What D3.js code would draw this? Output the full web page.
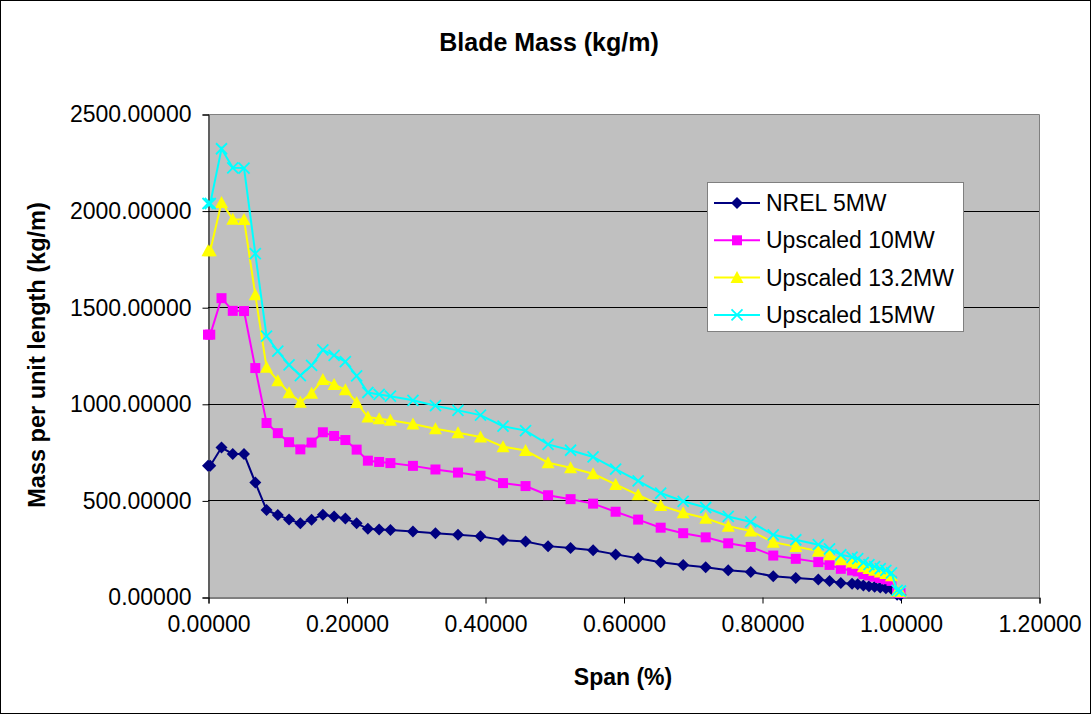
<!DOCTYPE html>
<html>
<head>
<meta charset="utf-8">
<script src="https://cdn.jsdelivr.net/npm/d3@7"></script>
<style>
  body { margin: 0; background: #fff; }
  text { font-family: "Liberation Sans", Arial, sans-serif; fill: #000; }
</style>
</head>
<body>
<div id="chart"></div>
<script>
// span fraction along blade
const span = [0, 0.00325, 0.01951, 0.03577, 0.05203, 0.06829, 0.08455, 0.10081, 0.11707, 0.13335,
  0.14959, 0.16585, 0.18211, 0.19837, 0.21465, 0.23089, 0.24715, 0.26341, 0.29595, 0.32846,
  0.36098, 0.39350, 0.42602, 0.45855, 0.49106, 0.52358, 0.55610, 0.58862, 0.62115, 0.65366,
  0.68618, 0.71870, 0.75122, 0.78374, 0.81626, 0.84878, 0.88130, 0.89756, 0.91382, 0.93008,
  0.93821, 0.94636, 0.95447, 0.96260, 0.97073, 0.97886, 0.98699, 0.99512, 1.00000];

const nrel5 = [678.9, 678.9, 773.4, 740.6, 740.0, 592.5, 450.3, 424.1, 400.6, 382.1,
  399.7, 426.3, 416.8, 406.2, 381.4, 352.8, 349.5, 346.5, 339.3, 330.0,
  322.0, 313.8, 294.7, 287.1, 263.3, 253.2, 241.7, 220.6, 200.3, 179.4,
  165.1, 154.4, 138.9, 129.6, 107.3, 98.8, 90.2, 83.0, 72.9, 68.8,
  66.3, 59.3, 55.9, 52.5, 49.1, 45.8, 41.7, 11.5, 10.3];

const up10 = [1357.9, 1357.9, 1546.7, 1481.1, 1480.1, 1185.0, 900.6, 848.1, 801.3, 764.1,
  799.3, 852.6, 833.6, 812.4, 762.8, 705.6, 699.0, 693.1, 678.7, 660.0,
  644.0, 627.6, 589.5, 574.2, 526.7, 506.4, 483.3, 441.3, 400.6, 358.8,
  330.2, 308.8, 277.9, 259.1, 214.5, 197.6, 180.5, 166.0, 145.8, 137.5,
  132.5, 118.7, 111.8, 105.0, 98.2, 91.6, 83.3, 22.9, 20.6];

const up13 = [1792.4, 1792.4, 2041.7, 1955.1, 1953.7, 1564.2, 1188.7, 1119.5, 1057.7, 1008.6,
  1055.1, 1125.5, 1100.4, 1072.3, 1006.9, 931.5, 922.6, 914.9, 895.8, 871.2,
  850.1, 828.5, 778.1, 758.0, 695.2, 668.5, 638.0, 582.5, 528.8, 473.6,
  435.8, 407.6, 366.8, 342.0, 283.2, 260.8, 238.3, 219.1, 192.5, 181.6,
  174.9, 156.7, 147.6, 138.6, 129.7, 121.0, 110.0, 30.2, 27.2];

const up15 = [2036.8, 2036.8, 2320.1, 2221.7, 2220.1, 1777.5, 1350.8, 1272.2, 1201.9, 1146.2,
  1199.0, 1279.0, 1250.5, 1218.6, 1144.3, 1058.5, 1048.4, 1039.6, 1018.0, 990.0,
  966.0, 941.5, 884.2, 861.4, 790.0, 759.6, 725.0, 661.9, 600.9, 538.2,
  495.3, 463.2, 416.8, 388.7, 321.8, 296.3, 270.7, 249.0, 218.7, 206.3,
  198.8, 178.0, 167.7, 157.5, 147.3, 137.5, 125.0, 34.4, 31.0];

const seriesNames = ["NREL 5MW", "Upscaled 10MW", "Upscaled 13.2MW", "Upscaled 15MW"];
const xTicks = [0, 0.2, 0.4, 0.6, 0.8, 1.0, 1.2];
const yTicks = [0, 500, 1000, 1500, 2000, 2500];

const series = [
  { name: seriesNames[0], values: nrel5, color: "#000080", marker: "diamond" },
  { name: seriesNames[1], values: up10, color: "#FF00FF", marker: "square" },
  { name: seriesNames[2], values: up13, color: "#FFFF00", marker: "triangle" },
  { name: seriesNames[3], values: up15, color: "#00FFFF", marker: "x" }
];

const W = 1092, H = 715;
const plot = { left: 208, top: 114, right: 1039, bottom: 597 };

const svg = d3.select("#chart").append("svg")
    .attr("width", W).attr("height", H);

svg.append("rect").attr("x", 0.5).attr("y", 0.5)
    .attr("width", W - 2).attr("height", H - 2)
    .attr("fill", "#fff").attr("stroke", "#000");

const x = d3.scaleLinear().domain([0, 1.2]).range([plot.left, plot.right]);
const y = d3.scaleLinear().domain([0, 2500]).range([plot.bottom, plot.top]);

// plot area
svg.append("rect")
    .attr("x", plot.left).attr("y", plot.top)
    .attr("width", plot.right - plot.left).attr("height", plot.bottom - plot.top)
    .attr("fill", "#C0C0C0");
svg.append("path")
    .attr("d", `M${plot.left},${plot.top + 0.5}H${plot.right + 0.5}V${plot.bottom}`)
    .attr("fill", "none").attr("stroke", "#808080");

// gridlines
svg.selectAll(".grid").data(yTicks.slice(1, -1)).enter().append("line")
    .attr("x1", plot.left).attr("x2", plot.right)
    .attr("y1", d => Math.round(y(d)) + 0.5).attr("y2", d => Math.round(y(d)) + 0.5)
    .attr("stroke", "#000");

// axes
const yAxis = d3.axisLeft(y).tickValues(yTicks).tickSize(6).tickPadding(11)
    .tickFormat(d => d3.format(".5f")(d));
const gy = svg.append("g").attr("transform", `translate(${plot.left + 0.5},0.5)`).call(yAxis);
gy.selectAll("text").style("font-size", "23px");

const xAxis = d3.axisBottom(x).tickValues(xTicks).tickSize(6).tickPadding(12)
    .tickFormat(d => d3.format(".5f")(d));
const gx = svg.append("g").attr("transform", `translate(0.5,${plot.bottom + 0.5})`).call(xAxis);
gx.selectAll("text").style("font-size", "23px");

svg.selectAll(".domain").attr("stroke", "#000");
svg.selectAll(".tick line").attr("stroke", "#000");

// titles
svg.append("text").attr("x", 549).attr("y", 51)
    .attr("text-anchor", "middle").style("font-size", "25px").style("font-weight", "bold")
    .text("Blade Mass (kg/m)");
svg.append("text").attr("x", 623).attr("y", 685)
    .attr("text-anchor", "middle").style("font-size", "23px").style("font-weight", "bold")
    .text("Span (%)");
svg.append("text")
    .attr("transform", "translate(45,355) rotate(-90)")
    .attr("text-anchor", "middle").style("font-size", "23.5px").style("font-weight", "bold")
    .text("Mass per unit length (kg/m)");

function markerPath(type, cx, cy) {
  if (type === "diamond") {
    const r = 6;
    return `M${cx},${cy - r}L${cx + r},${cy}L${cx},${cy + r}L${cx - r},${cy}Z`;
  }
  if (type === "square") {
    const r = 5;
    return `M${cx - r},${cy - r}H${cx + r}V${cy + r}H${cx - r}Z`;
  }
  if (type === "triangle") {
    const r = 6.5;
    return `M${cx},${cy - r}L${cx + r},${cy + 5.5}L${cx - r},${cy + 5.5}Z`;
  }
  const r = 5.5;
  return `M${cx - r},${cy - r}L${cx + r},${cy + r}M${cx - r},${cy + r}L${cx + r},${cy - r}`;
}

function drawMarker(g, type, color, cx, cy) {
  const p = g.append("path").attr("d", markerPath(type, cx, cy));
  if (type === "x") p.attr("fill", "none").attr("stroke", color).attr("stroke-width", 1.8);
  else p.attr("fill", color);
}

const line = d3.line().x((d, i) => x(span[i])).y(d => y(d));

series.forEach(s => {
  const g = svg.append("g");
  g.append("path").datum(s.values)
      .attr("d", line)
      .attr("fill", "none").attr("stroke", s.color).attr("stroke-width", 2);
  s.values.forEach((v, i) => drawMarker(g, s.marker, s.color, x(span[i]), y(v)));
});

// legend
const leg = svg.append("g").attr("transform", "translate(707,182)");
leg.append("rect").attr("x", 0.5).attr("y", 0.5).attr("width", 256).attr("height", 149)
    .attr("fill", "#fff").attr("stroke", "#808080");
series.forEach((s, i) => {
  const cy = 21 + i * 37.3;
  const g = leg.append("g");
  g.append("line").attr("x1", 7).attr("x2", 53).attr("y1", cy).attr("y2", cy)
      .attr("stroke", s.color).attr("stroke-width", 2);
  drawMarker(g, s.marker, s.color, 30, cy);
  g.append("text").attr("x", 59).attr("y", cy).attr("dy", "0.35em")
      .style("font-size", "23px").text(s.name);
});
</script>
</body>
</html>
